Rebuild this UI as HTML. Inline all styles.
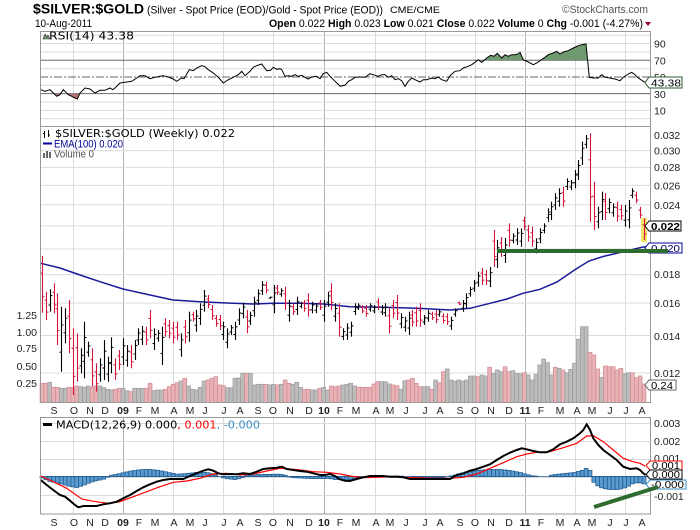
<!DOCTYPE html>
<html><head><meta charset="utf-8"><style>
html,body{margin:0;padding:0;background:#fff;}
svg{display:block;font-family:"Liberation Sans",Arial,sans-serif;}
</style></head><body>
<svg id="c" width="700" height="530" viewBox="0 0 700 530" xmlns="http://www.w3.org/2000/svg">
<rect x="0" y="0" width="700" height="530" fill="#fff"/>
<g id="grid"></g>
<rect x="641" y="218" width="6" height="24" fill="#f3e56a"/>
<g id="data"></g>

<!-- panel borders -->
<rect x="40.5" y="31.5" width="610" height="95" fill="none" stroke="#999"/>
<rect x="40.5" y="126.5" width="610" height="276" fill="none" stroke="#999"/>
<rect x="40.5" y="417.5" width="610" height="96.5" fill="none" stroke="#999"/>

<!-- header -->
<text x="33" y="13.5" font-size="14" font-weight="bold" textLength="111" lengthAdjust="spacingAndGlyphs">$SILVER:$GOLD</text>
<text x="147" y="13.5" font-size="11" textLength="236" lengthAdjust="spacingAndGlyphs">(Silver - Spot Price (EOD)/Gold - Spot Price (EOD))</text>
<text x="390" y="13" font-size="9.5" textLength="50" lengthAdjust="spacingAndGlyphs">CME/CME</text>
<text x="562" y="13" font-size="11" fill="#555" textLength="86" lengthAdjust="spacingAndGlyphs">©StockCharts.com</text>
<text x="35" y="27" font-size="11" textLength="57" lengthAdjust="spacingAndGlyphs">10-Aug-2011</text>
<text x="269" y="27" font-size="11" textLength="374" lengthAdjust="spacingAndGlyphs"><tspan font-weight="bold">Open</tspan> 0.022  <tspan font-weight="bold">High</tspan> 0.023  <tspan font-weight="bold">Low</tspan> 0.021  <tspan font-weight="bold">Close</tspan> 0.022  <tspan font-weight="bold">Volume</tspan> 0  <tspan font-weight="bold">Chg</tspan> -0.001 (-4.27%)</text>
<polygon points="645,22 651,22 648,26" fill="#990033"/>

<!-- RSI legend -->
<polygon points="43,39 45,34 47,37 48,35 50,39" fill="#6d9a6d" stroke="#333" stroke-width="0.6"/>
<text x="49" y="39.5" font-family="DejaVu Sans, sans-serif" font-size="11" textLength="85" lengthAdjust="spacingAndGlyphs">RSI(14) 43.38</text>

<!-- RSI axis labels -->
<g font-size="10.5" fill="#222">
<text x="654" y="47.5">90</text>
<text x="654" y="64.5">70</text>
<text x="654" y="81">50</text>
<text x="654" y="98">30</text>
<text x="654" y="114.5">10</text>
</g>
<polygon points="645,82.5 649,77 682,77 682,88 649,88" fill="#fff" stroke="#2d5a2d"/>
<text x="651" y="86.5" font-size="10.5" textLength="30" lengthAdjust="spacingAndGlyphs">43.38</text>

<!-- main legend -->
<g stroke="#000" stroke-width="1">
<line x1="44.5" y1="131" x2="44.5" y2="138"/><line x1="43" y1="133.5" x2="44.5" y2="133.5"/>
<line x1="48.5" y1="130" x2="48.5" y2="137"/><line x1="48.5" y1="135" x2="50" y2="135"/>
</g>
<text x="55" y="137" font-family="DejaVu Sans, sans-serif" font-size="11" textLength="180" lengthAdjust="spacingAndGlyphs">$SILVER:$GOLD (Weekly) 0.022</text>
<line x1="43" y1="143.5" x2="52" y2="143.5" stroke="#000099" stroke-width="2"/>
<text x="54" y="147.5" font-size="11" fill="#000099" textLength="69" lengthAdjust="spacingAndGlyphs">EMA(100) 0.020</text>
<g fill="#666"><rect x="43" y="153" width="2" height="5"/><rect x="46" y="151" width="2" height="7"/><rect x="49" y="152" width="2" height="6"/></g>
<text x="54" y="157.5" font-size="11" fill="#555" textLength="40" lengthAdjust="spacingAndGlyphs">Volume 0</text>

<!-- price axis labels -->
<g font-size="10.5" fill="#222">
<text x="654" y="139">0.032</text>
<text x="654" y="154.5">0.030</text>
<text x="654" y="171">0.028</text>
<text x="654" y="189.5">0.026</text>
<text x="654" y="209">0.024</text>
<text x="654" y="278">0.018</text>
<text x="654" y="307">0.016</text>
<text x="654" y="340">0.014</text>
<text x="654" y="377">0.012</text>
</g>
<polygon points="645,226 649,221 681,221 681,231 649,231" fill="#fff" stroke="#000"/>
<text x="651" y="230" font-size="10.5" font-weight="bold" textLength="29" lengthAdjust="spacingAndGlyphs">0.022</text>
<polygon points="645,248 649,243 682,243 682,253 649,253" fill="#fff" stroke="#000099"/>
<text x="651" y="252" font-size="10.5" fill="#000066" textLength="29" lengthAdjust="spacingAndGlyphs">0.020</text>
<polygon points="645,385 649,380 676,380 676,390 649,390" fill="#fff" stroke="#666"/>
<text x="651" y="389" font-size="10.5" textLength="22" lengthAdjust="spacingAndGlyphs">0.24</text>
<line x1="497" y1="251" x2="668" y2="251" stroke="#2e6b2e" stroke-width="4"/>

<!-- volume labels -->
<g font-size="10.5" fill="#222" text-anchor="end">
<text x="37" y="319">1.25</text>
<text x="37" y="336">1.00</text>
<text x="37" y="352">0.75</text>
<text x="37" y="370">0.50</text>
<text x="37" y="387">0.25</text>
</g>

<!-- x axis labels main -->
<g font-size="10.5" fill="#222" text-anchor="middle">
<text x="54" y="414">S</text><text x="74" y="414">O</text><text x="90" y="414">N</text><text x="105" y="414">D</text>
<text x="123" y="414" font-weight="bold">09</text><text x="139" y="414">F</text><text x="155" y="414">M</text><text x="174" y="414">A</text>
<text x="190" y="414">M</text><text x="205" y="414">J</text><text x="224" y="414">J</text><text x="240" y="414">A</text>
<text x="258" y="414">S</text><text x="273" y="414">O</text><text x="290" y="414">N</text><text x="309" y="414">D</text>
<text x="324" y="414" font-weight="bold">10</text><text x="340" y="414">F</text><text x="356" y="414">M</text><text x="376" y="414">A</text>
<text x="390" y="414">M</text><text x="406" y="414">J</text><text x="425" y="414">J</text><text x="440" y="414">A</text>
<text x="460" y="414">S</text><text x="475" y="414">O</text><text x="491" y="414">N</text><text x="509" y="414">D</text>
<text x="525" y="414" font-weight="bold">11</text><text x="541" y="414">F</text><text x="560" y="414">M</text><text x="577" y="414">A</text>
<text x="592" y="414">M</text><text x="610" y="414">J</text><text x="626" y="414">J</text><text x="642" y="414">A</text>
</g>

<!-- MACD legend -->
<line x1="43" y1="424.5" x2="52" y2="424.5" stroke="#000" stroke-width="3"/>
<text x="56" y="428.5" font-family="DejaVu Sans, sans-serif" font-size="11" textLength="204" lengthAdjust="spacingAndGlyphs">MACD(12,26,9) 0.000<tspan fill="#ff0000">, 0.001</tspan><tspan fill="#3a8fc8">, -0.000</tspan></text>

<!-- MACD axis labels -->
<g font-size="10.5" fill="#222">
<text x="654" y="427">0.003</text>
<text x="654" y="445">0.002</text>
<text x="654" y="462">0.001</text>
<text x="654" y="500">-0.001</text>
</g>
<polygon points="646,465.5 650,461 682,461 682,470 650,470" fill="#fff" stroke="#ff0000"/>
<text x="652" y="469" font-size="10.5" textLength="28" lengthAdjust="spacingAndGlyphs">0.001</text>
<polygon points="646,474.5 650,470 682,470 682,479 650,479" fill="#fff" stroke="#000"/>
<text x="652" y="478" font-size="10.5" textLength="28" lengthAdjust="spacingAndGlyphs">0.000</text>
<polygon points="646,484.5 650,480 686,480 686,489 650,489" fill="#fff" stroke="#3a8fc8"/>
<text x="651" y="488" font-size="10.5" textLength="33" lengthAdjust="spacingAndGlyphs">-0.000</text>
<line x1="594" y1="507" x2="658" y2="487" stroke="#2e6b2e" stroke-width="4"/>

<!-- x axis labels MACD -->
<g font-size="10.5" fill="#222" text-anchor="middle">
<text x="54" y="526">S</text><text x="74" y="526">O</text><text x="90" y="526">N</text><text x="105" y="526">D</text>
<text x="123" y="526" font-weight="bold">09</text><text x="139" y="526">F</text><text x="155" y="526">M</text><text x="174" y="526">A</text>
<text x="190" y="526">M</text><text x="205" y="526">J</text><text x="224" y="526">J</text><text x="240" y="526">A</text>
<text x="258" y="526">S</text><text x="273" y="526">O</text><text x="290" y="526">N</text><text x="309" y="526">D</text>
<text x="324" y="526" font-weight="bold">10</text><text x="340" y="526">F</text><text x="356" y="526">M</text><text x="376" y="526">A</text>
<text x="390" y="526">M</text><text x="406" y="526">J</text><text x="425" y="526">J</text><text x="440" y="526">A</text>
<text x="460" y="526">S</text><text x="475" y="526">O</text><text x="491" y="526">N</text><text x="509" y="526">D</text>
<text x="525" y="526" font-weight="bold">11</text><text x="541" y="526">F</text><text x="560" y="526">M</text><text x="577" y="526">A</text>
<text x="592" y="526">M</text><text x="610" y="526">J</text><text x="626" y="526">J</text><text x="642" y="526">A</text>
</g>
</svg>
<script>
(function(){
const NS='http://www.w3.org/2000/svg';
function mk(p,t,a){const e=document.createElementNS(NS,t);for(const k in a)e.setAttribute(k,a[k]);p.appendChild(e);return e;}
const G=document.getElementById('grid'),D=document.getElementById('data');
const VX=[73,123,173,223,273,324,375,425,475,525,575,625],YR=[123,324,525];
[[31,126],[126,403],[417,514]].forEach(p=>VX.forEach(x=>mk(G,'line',{x1:x+.5,y1:p[0],x2:x+.5,y2:p[1],stroke:YR.includes(x)?'#b4b4b4':'#dcdcdc','stroke-width':1})));
const ry=v=>118.7-0.835*v;
for(let v=0;v<=100;v+=10){if(v==70||v==30||v==50)continue;mk(G,'line',{x1:40,x2:651,y1:ry(v),y2:ry(v),stroke:'#dcdcdc'});}
mk(G,'line',{x1:40,x2:651,y1:ry(70),y2:ry(70),stroke:'#666'});
mk(G,'line',{x1:40,x2:651,y1:ry(30),y2:ry(30),stroke:'#666'});
mk(G,'line',{x1:40,x2:651,y1:ry(50),y2:ry(50),stroke:'#666','stroke-dasharray':'8,2,2,2'});
const py=p=>135+242.6*(Math.log(0.032)-Math.log(p));
for(let p=0.012;p<0.0305;p+=0.002)mk(G,'line',{x1:40,x2:651,y1:py(p),y2:py(p),stroke:'#dcdcdc'});
[423,441,459,477,495].forEach(y=>mk(G,'line',{x1:40,x2:651,y1:y+.5,y2:y+.5,stroke:'#dcdcdc'}));

function conv(ox,oy,arr){return arr.map(r=>[ox+r[0]/3,oy+r[1]/3]);}
function pts(a){return a.map(p=>p[0].toFixed(1)+','+p[1].toFixed(1)).join(' ');}
function interp(a,x){if(x<=a[0][0])return a[0][1];for(let i=1;i<a.length;i++){if(x<=a[i][0]){const t=(x-a[i-1][0])/(a[i][0]-a[i-1][0]);return a[i-1][1]+t*(a[i][1]-a[i-1][1]);}}return a[a.length-1][1];}

// RSI
const z8=[[33,185],[45,190],[60,185],[70,195],[80,205],[90,200],[100,185],[105,190],[115,200],[125,205],[135,210],[142,213],[150,195],[165,180],[180,183],[195,195],[210,187],[225,187],[240,180],[248,185],[255,180],[270,165],[290,162],[305,160],[320,150],[330,143],[345,143],[360,152],[375,148],[390,145],[400,143],[415,147],[430,153],[440,160],[455,150],[462,152],[478,125],[490,128],[500,120],[515,113],[525,116],[535,125],[550,135],[565,148],[580,165],[595,155],[610,148],[625,140],[635,130],[645,143],[660,130],[670,118],[680,113],[695,108],[710,128],[722,127],[730,118],[740,124],[750,122],[755,125],[765,145],[775,143],[785,145],[795,140],[805,145],[815,142],[825,148],[835,153],[845,147],[860,145],[870,152],[880,137],[890,133],[900,145],[915,160],[929,173]];
const z9=[[0,175],[15,172],[25,160],[35,155],[45,148],[60,147],[75,148],[90,137],[105,142],[115,145],[125,140],[135,140],[145,148],[155,143],[165,155],[175,152],[185,158],[195,175],[205,160],[215,150],[225,155],[240,162],[250,155],[260,155],[275,150],[285,152],[295,147],[305,155],[320,160],[330,143],[345,130],[360,128],[370,120],[385,115],[395,110],[405,103],[415,95],[425,103],[440,90],[452,82],[462,85],[472,76],[485,90],[495,80],[505,85],[515,80],[525,80],[535,77],[540,73],[550,95],[565,102],[580,110],[590,105],[600,98],[615,88],[625,80],[640,75],[650,70],[660,78],[670,72],[685,68],[700,60],[715,53],[725,50],[738,48],[748,148],[760,150],[775,150],[785,140],[795,148],[810,150],[825,153],[840,158],[850,148],[865,138],[875,133],[885,140],[895,150],[910,160],[915,163]];
const rsi=conv(30,28,z8).concat(conv(340,28,z9));
const defs=mk(D,'defs',{});
const c1=mk(defs,'clipPath',{id:'ca'});mk(c1,'rect',{x:40,y:31,width:611,height:ry(70)-31});
const c2=mk(defs,'clipPath',{id:'cb'});mk(c2,'rect',{x:40,y:ry(30),width:611,height:126-ry(30)});
const f=rsi[0][0],l=rsi[rsi.length-1][0];
mk(D,'polygon',{points:pts(rsi)+' '+l+','+ry(70)+' '+f+','+ry(70),fill:'#6f9a6f','clip-path':'url(#ca)'});
mk(D,'polygon',{points:pts(rsi)+' '+l+','+ry(30)+' '+f+','+ry(30),fill:'#b57272','clip-path':'url(#cb)'});
mk(D,'polyline',{points:pts(rsi),fill:'none',stroke:'#000','stroke-width':1});

// bars
const N=157,bx=i=>Math.round(42+i*3.859)+0.5;
const z4=[[125,18,188,1],[138,125,210,1],[150,118,185,0],[160,100,190,1],[172,130,285,1],[183,170,365,0],[197,175,280,0],[208,150,310,1],[220,235,435,1],[232,250,395,1],[240,295,370,0],[253,215,385,0],[262,275,320,0],[268,222,385,0],[278,295,410,1],[290,340,425,1],[298,325,395,0],[310,270,390,0],[320,320,395,0],[333,262,370,0],[345,325,390,1],[357,300,360,1],[368,265,345,0],[380,285,350,0],[395,285,355,1],[403,270,330,0],[415,235,285,0],[428,228,285,0],[438,230,285,1],[450,180,265,1],[460,235,300,0],[470,240,275,0],[485,230,345,0],[495,205,260,1],[507,210,265,1],[520,215,280,1],[530,215,270,1],[542,250,320,0],[556,210,280,1],[568,185,275,0],[578,185,215,1],[586,180,245,0],[598,160,225,0],[610,120,185,0],[622,135,175,1],[637,165,210,1],[647,195,230,1],[657,195,240,1],[670,215,270,0],[680,235,295,0],[690,225,255,0],[697,215,270,0],[708,215,270,0],[718,175,225,0],[730,158,205,0],[740,180,250,1],[748,185,225,0],[758,180,222,0],[765,140,200,0],[777,118,165,0],[788,93,135,0],[798,95,130,1],[810,140,145,0],[820,105,190,0],[830,105,135,1],[844,115,140,0],[857,110,180,1],[867,150,215,0],[880,160,195,1],[890,140,195,0],[900,155,175,0],[910,150,185,1],[917,130,175,0],[925,130,200,1],[935,155,190,0],[945,160,190,0],[955,150,180,1],[965,145,190,1],[972,150,215,0],[983,125,170,0],[995,100,180,1],[1005,160,215,0],[1015,160,260,1],[1027,235,270,0],[1035,250,270,0],[1045,220,270,0]];
const z5=[[5,215,260,0],[18,160,195,0],[30,160,180,0],[40,165,190,1],[50,165,200,1],[55,165,205,0],[65,160,185,0],[75,165,190,0],[85,145,180,1],[95,165,195,0],[105,160,200,0],[118,175,250,1],[130,150,205,1],[140,135,210,1],[150,190,235,0],[160,200,245,0],[172,185,255,0],[180,200,225,0],[190,180,230,1],[200,170,230,1],[210,160,230,1],[218,195,225,0],[228,185,215,0],[238,180,215,0],[248,185,210,1],[258,180,220,1],[268,180,200,0],[278,190,220,1],[288,190,225,1],[298,210,230,1],[305,200,240,0],[315,175,200,0],[325,155,165,1],[335,150,185,0],[345,130,175,0],[355,125,160,0],[365,110,140,0],[375,90,125,0],[385,65,110,0]];
const z3=[[175,340,410,1],[185,370,400,0],[193,360,390,0],[200,355,405,0],[210,355,410,0],[220,320,360,1],[230,350,400,1],[238,345,395,1],[248,350,410,1],[258,385,430,0],[265,355,400,0],[278,340,370,0],[287,330,365,0],[298,295,335,0],[305,275,330,0],[315,250,300,0],[325,235,290,0],[333,230,265,1],[342,230,290,1],[353,205,240,0],[365,210,240,0],[375,180,235,0],[385,150,210,0],[397,95,165,0],[405,90,155,0],[410,75,115,0],[420,70,335,1],[432,215,360,1],[443,290,355,0],[455,245,330,0],[465,250,330,1],[478,265,310,0],[487,280,320,0],[497,275,335,1],[505,290,330,1],[515,285,330,1],[525,285,350,0],[537,270,355,0],[547,235,265,0],[555,245,280,1],[565,240,300,1],[572,290,325,1],[582,325,390,1]];
let R=[];
z4.forEach(r=>R.push([r[0]/3,250+r[1]/3,250+r[2]/3,r[3]]));
z5.forEach(r=>R.push([350+r[0]/3,250+r[1]/3,250+r[2]/3,r[3]]));
[[482,268,285,1],[485.5,270,285,1],[488,267,287,0],[491.7,255,277,0],[494,230,267,1],[497.5,240,268,0],[501.5,237,257,1],[505,238,263,0]].forEach(r=>R.push(r));
z3.forEach(r=>R.push([450+r[0]/3,110+r[1]/3,110+r[2]/3,r[3]]));
function nearest(A,x){let b=A[0],d=1e9;A.forEach(r=>{const dd=Math.abs(r[0]-x);if(dd<d){d=dd;b=r;}});return b;}

// volume
const v4=[[125,400,1],[138,400,1],[150,397,0],[160,412,1],[172,412,1],[183,415,0],[197,415,0],[208,412,1],[220,413,1],[232,408,1],[240,410,0],[253,412,0],[262,408,0],[268,412,0],[278,412,1],[290,408,1],[298,408,0],[310,413,0],[320,418,0],[333,420,0],[345,418,1],[357,415,1],[368,415,0],[380,422,0],[395,425,1],[403,415,0],[415,415,0],[428,415,0],[438,415,1],[450,400,1],[460,422,0],[470,420,0],[485,420,0],[495,418,1],[507,410,1],[520,403,1],[530,398,1],[542,393,0],[556,385,1],[568,408,0],[578,418,0],[586,420,0],[598,412,0],[610,393,0],[622,390,1],[637,385,1],[647,380,1],[657,405,1],[670,407,1],[680,413,0],[690,413,0],[697,413,0],[708,385,0],[718,384,0],[730,370,0],[740,370,1],[748,370,0],[758,403,0],[765,405,0],[777,403,0],[788,403,0],[798,403,1],[810,405,0],[820,403,0],[830,405,1],[844,403,0],[857,390,1],[867,400,1],[880,403,0],[890,397,0],[900,412,0],[910,418,1],[917,416,0],[925,418,1],[935,420,0],[945,420,0],[955,415,1],[965,412,0],[972,412,0],[983,420,0],[995,408,1],[1005,410,1],[1015,408,1],[1027,405,0],[1035,403,0],[1045,403,0]];
const v5=[[5,400,0],[18,408,0],[30,412,1],[40,412,1],[50,412,1],[60,412,1],[70,402,1],[85,395,1],[95,395,0],[105,395,0],[118,402,0],[130,405,1],[140,407,1],[150,418,0],[160,392,0],[172,390,1],[182,385,1],[195,400,1],[205,410,1],[218,410,0],[228,408,0],[238,410,0],[250,418,1],[258,390,0],[268,398,1],[278,365,1],[290,357,0],[305,390,0],[315,393,0],[325,390,0],[335,393,0],[345,390,0],[355,388,0],[365,378,0],[375,378,0],[385,380,1],[395,375,0],[405,378,0],[415,352,1],[425,368,0],[435,370,0],[445,360,0],[455,365,0],[465,350,1],[478,365,1],[490,362,0],[500,370,0],[510,372,0],[520,368,1],[530,375,0],[540,367,1],[550,390,0],[560,373,0],[570,345,0],[580,327,0],[590,338,0],[600,375,0],[610,352,0],[620,352,1],[630,355,0],[640,360,1],[650,368,0],[660,358,0],[670,340,0],[680,305,0],[690,268,0],[700,230,0],[710,230,0],[720,307,1],[730,315,1],[740,357,1],[750,382,0],[760,342,1],[770,348,1],[780,350,1],[790,350,1],[800,360,1],[810,355,1],[820,372,0],[830,370,0],[840,368,0],[850,368,1],[860,383,1],[870,378,1],[880,402,1]];
let V=[];
v4.forEach(r=>V.push([r[0]/3,250+r[1]/3,r[2]]));
v5.forEach(r=>V.push([350+r[0]/3,250+r[1]/3,r[2]]));
const VB=402.5;
for(let i=0;i<N;i++){const x=42+i*3.859;const v=nearest(V,x);const top=Math.min(v[1],VB-1);
mk(D,'rect',{x:(x-1.93).toFixed(2),y:top.toFixed(1),width:3.86,height:(VB-top).toFixed(1),fill:v[2]?'#e8b2b6':'#bcbcbc',stroke:v[2]?'#d08a92':'#9a9a9a','stroke-width':0.7});}

// EMA
const ema=[[40.7,263.3],[60,268],[80,275],[100,281.7],[123,289],[150,295],[173,300],[200,301.7],[227,303],[253,304],[273,303.3],[300,303.3],[324,304],[350,306.7],[383,307.3],[417,308.3],[450,310],[470,308.3],[490,303.3],[507,299],[523,293.3],[540,289.3],[557,282],[576,269],[589,261],[603,256.5],[622,252],[643,247],[648,246.7]];
mk(D,'polyline',{points:pts(ema),fill:'none',stroke:'#1a1a99','stroke-width':1.5});

for(let i=0;i<N;i++){const xr=42+i*3.859,x=bx(i);const r=nearest(R,xr);const t=r[1],b=Math.max(r[2],r[1]+2),h=b-t;const col=r[3]?'#d4143c':'#000';
const cl=r[3]?t+0.72*h:t+0.28*h,op=r[3]?t+0.3*h:t+0.7*h;
mk(D,'line',{x1:x,x2:x,y1:t.toFixed(1),y2:b.toFixed(1),stroke:col,'stroke-width':1.1});
mk(D,'line',{x1:x-2,x2:x,y1:op.toFixed(1),y2:op.toFixed(1),stroke:col,'stroke-width':1});
mk(D,'line',{x1:x,x2:x+2,y1:cl.toFixed(1),y2:cl.toFixed(1),stroke:col,'stroke-width':1});}

// MACD histogram
const H=[[41,-1],[50,-5],[60,-7],[70,-10],[77,-11],[83,-9],[90,-6],[97,-4],[103,-3],[107,-1],[110,1],[117,2.3],[123,3.7],[130,5.3],[137,6.3],[143,7],[150,7],[157,6.3],[163,5.3],[170,3.7],[177,2.3],[187,3],[200,4.5],[207,4],[213,2.5],[220,0],[225,-2],[235,-3],[240,-2],[247,1],[260,2],[280,2.3],[287,1],[290,-1],[310,-2],[330,-2],[335,-3],[350,-3.5],[357,-1],[363,0],[400,0.5],[420,-1],[443,-1],[453,1],[460,3],[470,5],[480,6.3],[490,7],[500,7],[510,6],[520,4],[527,2],[533,0.5],[547,0],[550,1],[555,2],[565,3],[575,4],[582,6],[586,8],[589,11],[592,-4],[597,-9],[603,-12],[610,-13],[617,-13],[623,-12],[628,-10],[633,-7],[638,-6],[643,-7],[647,-8]];
const Z=476.5;
for(let i=0;i<N;i++){const x=42+i*3.859;const h=interp(H,x);if(Math.abs(h)<0.3)continue;
mk(D,'rect',{x:(x-1.93).toFixed(2),y:(h>0?Z-h:Z).toFixed(1),width:3.86,height:Math.abs(h).toFixed(1),fill:'#5a9bd0',stroke:'#235d92','stroke-width':0.8});}
mk(D,'line',{x1:40,x2:651,y1:Z,y2:Z,stroke:'#235d92','stroke-width':0.8});
const m6=[[122,240],[140,255],[160,270],[180,285],[195,290],[210,302],[225,315],[235,322],[250,318],[270,318],[290,318],[310,313],[330,310],[350,305],[370,295],[390,285],[410,273],[430,262],[450,253],[470,245],[490,240],[510,237],[530,237],[550,237],[570,228],[590,220],[610,212],[625,208],[640,212],[655,220],[670,223],[690,222],[710,223],[730,220],[750,222],[770,215],[790,207],[810,205],[830,203],[845,200],[860,207],[880,210],[900,213],[920,215],[940,220],[960,225],[975,225],[990,222],[1005,228],[1020,238],[1035,242],[1050,243]];
const m7=[[20,237],[40,232],[60,228],[80,228],[100,228],[120,230],[140,230],[160,232],[180,237],[200,237],[220,237],[240,237],[260,237],[280,237],[300,237],[320,225],[340,220],[360,212],[380,207],[400,200],[420,193],[440,180],[460,168],[480,158],[500,150],[515,145],[530,148],[550,153],[570,157],[590,157],[610,148],[630,133],[650,125],[670,115],[690,100],[700,90],[710,73],[720,90],[730,115],[745,135],[760,150],[780,165],[800,180],[820,200],[840,207],[860,205],[870,210],[880,220],[887,225]];
const s6=[[122,228],[160,245],[200,265],[245,297],[270,302],[300,307],[330,310],[360,305],[400,290],[440,275],[480,260],[520,247],[560,243],[600,235],[640,222],[680,220],[720,225],[760,222],[800,213],[840,205],[870,207],[900,210],[940,215],[980,217],[1020,222],[1050,228]];
const s7=[[40,233],[80,232],[120,230],[160,232],[200,233],[250,235],[300,235],[340,232],[380,222],[420,205],[460,188],[500,170],[530,162],[560,157],[600,155],[640,143],[680,130],[710,108],[730,107],[760,125],[790,150],[820,175],[850,185],[870,190],[885,198]];
mk(D,'polyline',{points:pts(conv(0,400,s6).concat(conv(350,400,s7))),fill:'none',stroke:'#ff0000','stroke-width':1.2});
mk(D,'polyline',{points:pts(conv(0,400,m6).concat(conv(350,400,m7))),fill:'none',stroke:'#000','stroke-width':2});
})();
</script>
</body></html>
